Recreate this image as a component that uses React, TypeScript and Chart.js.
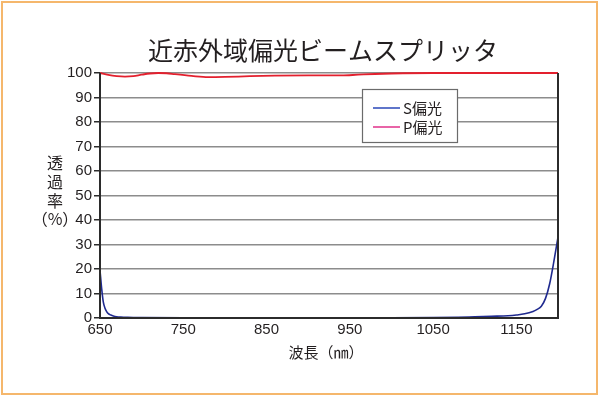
import React, { useEffect, useRef } from "react";
import { Chart, registerables } from "chart.js";

Chart.register(...registerables);

const TITLE = "近赤外域偏光ビームスプリッタ";
const Y_TITLE_CHARS = ["透", "過", "率", "（%）"];
const X_TITLE = "波長（㎚）";
const S_LABEL = "S偏光";
const P_LABEL = "P偏光";

const X_TICKS = [650, 750, 850, 950, 1050, 1150, 1200];

const S_WAVELENGTHS = [650, 652, 654, 656, 658, 660, 663, 666, 670, 675, 680, 690, 700, 750, 800, 850, 900, 950, 1000, 1050, 1080, 1100, 1120, 1140, 1150, 1160, 1170, 1175, 1180, 1185, 1190, 1195, 1200];
const S_VALUES = [19.5, 12, 6.5, 4, 2.6, 1.8, 1.2, 0.8, 0.5, 0.35, 0.3, 0.2, 0.15, 0.1, 0.1, 0.1, 0.1, 0.1, 0.1, 0.15, 0.3, 0.5, 0.7, 0.9, 1.2, 1.7, 2.7, 3.5, 4.8, 8, 14, 23, 33];

const P_WAVELENGTHS = [650, 660, 670, 680, 690, 700, 710, 720, 730, 740, 760, 780, 800, 830, 860, 900, 940, 960, 980, 1000, 1050, 1100, 1150, 1200];
const P_VALUES = [100, 99.2, 98.7, 98.5, 98.7, 99.3, 99.8, 100, 99.9, 99.5, 98.8, 98.3, 98.4, 98.7, 98.9, 99, 99, 99.3, 99.6, 99.8, 100, 100, 100, 100];

const X_MIN = 650;
const X_MAX = 1200;
const Y_MIN = 0;
const Y_MAX = 100;

const S_COLOR = "#1f2a8f";
const P_COLOR = "#e3202e";

const overlayPlugin = {
  id: "overlay",
  beforeDraw(chart: any) {
    const ctx = chart.ctx;
    ctx.save();
    ctx.fillStyle = "#ffffff";
    ctx.fillRect(0, 0, chart.width, chart.height);
    ctx.strokeStyle = "#f5b76c";
    ctx.lineWidth = 2;
    ctx.strokeRect(2, 2, 595, 392);
    ctx.fillStyle = "#231f20";
    ctx.font = "25px 'Noto Sans CJK JP'";
    ctx.textAlign = "center";
    ctx.textBaseline = "middle";
    ctx.fillText(TITLE, 323, 50);
    ctx.font = "16px 'Noto Sans CJK JP'";
    const ys = [163, 182, 201, 219];
    Y_TITLE_CHARS.forEach((c, i) => ctx.fillText(c, 55, ys[i]));
    ctx.font = "15px 'Noto Sans CJK JP'";
    ctx.fillText(X_TITLE, 326, 352);
    ctx.restore();
  },
  afterDatasetsDraw(chart: any) {
    const ctx = chart.ctx;
    const a = chart.chartArea;
    ctx.save();
    ctx.strokeStyle = "#2b2b2b";
    ctx.lineWidth = 2;
    ctx.beginPath();
    ctx.moveTo(a.left, a.top);
    ctx.lineTo(a.left, a.bottom);
    ctx.lineTo(a.right, a.bottom);
    ctx.lineTo(a.right, a.top);
    ctx.stroke();
    // legend box
    const bx = 362, by = 89, bw = 95, bh = 53;
    ctx.fillStyle = "#ffffff";
    ctx.fillRect(bx, by, bw, bh);
    ctx.strokeStyle = "#6b6b6b";
    ctx.lineWidth = 1.2;
    ctx.strokeRect(bx + 0.5, by + 0.5, bw, bh);
    ctx.lineWidth = 1.5;
    ctx.strokeStyle = "#2a47b8";
    ctx.beginPath();
    ctx.moveTo(373, 108);
    ctx.lineTo(400, 108);
    ctx.stroke();
    ctx.strokeStyle = "#e0308a";
    ctx.beginPath();
    ctx.moveTo(373, 127);
    ctx.lineTo(400, 127);
    ctx.stroke();
    ctx.fillStyle = "#231f20";
    ctx.font = "15px 'Noto Sans CJK JP'";
    ctx.textAlign = "left";
    ctx.textBaseline = "middle";
    ctx.fillText(S_LABEL, 403, 108);
    ctx.fillText(P_LABEL, 403, 127);
    ctx.restore();
  },
};

export default function App() {
  const ref = useRef<HTMLCanvasElement>(null);
  useEffect(() => {
    if (!ref.current) return;
    const sData = S_WAVELENGTHS.map((x, i) => ({ x, y: S_VALUES[i] }));
    const pData = P_WAVELENGTHS.map((x, i) => ({ x, y: P_VALUES[i] }));
    const chart = new Chart(ref.current, {
      type: "line",
      data: {
        datasets: [
          {
            label: S_LABEL,
            data: sData,
            borderColor: S_COLOR,
            borderWidth: 1.6,
            pointRadius: 0,
            cubicInterpolationMode: "monotone",
            clip: 4,
          },
          {
            label: P_LABEL,
            data: pData,
            borderColor: P_COLOR,
            borderWidth: 1.8,
            pointRadius: 0,
            cubicInterpolationMode: "monotone",
            clip: 4,
          },
        ],
      },
      options: {
        responsive: false,
        animation: false,
        devicePixelRatio: 1,
        layout: { padding: { left: 0, top: 73, right: 42, bottom: 0 } },
        plugins: {
          legend: { display: false },
          title: { display: false },
          tooltip: { enabled: false },
        },
        scales: {
          x: {
            type: "linear",
            min: X_MIN,
            max: X_MAX,
            grid: { display: false, drawTicks: false },
            border: { display: false },
            afterBuildTicks: (s: any) => {
              s.ticks = X_TICKS.map((v) => ({ value: v }));
            },
            ticks: {
              padding: 3,
              color: "#231f20",
              font: { family: "'Liberation Sans', Arial", size: 15 },
              callback: (v: any) => (v === X_MAX ? "" : String(v)),
              maxRotation: 0,
              autoSkip: false,
            },
            afterFit: (s: any) => {
              s.height = 79;
            },
          },
          y: {
            min: Y_MIN,
            max: Y_MAX,
            grid: {
              color: "#8c8c8c",
              lineWidth: 1.5,
              tickLength: 6,
              tickColor: "#2b2b2b",
              tickWidth: 1.5,
            },
            border: { display: false },
            ticks: {
              stepSize: 10,
              padding: 2,
              color: "#231f20",
              font: { family: "'Liberation Sans', Arial", size: 15 },
            },
            afterFit: (s: any) => {
              s.width = 100;
            },
          },
        },
      },
      plugins: [overlayPlugin],
    });
    return () => chart.destroy();
  }, []);
  return (
    <div style={{ position: "absolute", left: 0, top: 0, width: 600, height: 397 }}>
      <canvas ref={ref} width={600} height={397} />
    </div>
  );
}
